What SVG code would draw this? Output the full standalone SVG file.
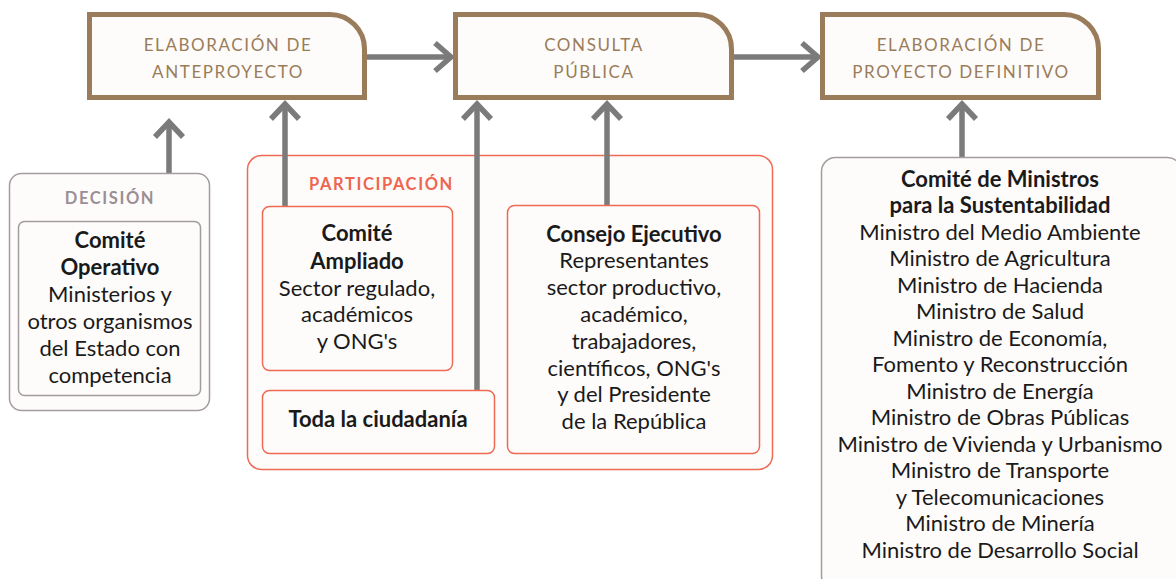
<svg xmlns="http://www.w3.org/2000/svg" width="1176" height="579" viewBox="0 0 1176 579">
<style>
.stage{fill:#fefcfa;stroke:#9a7c5a;stroke-width:5}
.stt{font-family:Lato,"Liberation Sans",sans-serif;font-size:17px;fill:#9a7c5a;letter-spacing:1.6px;text-anchor:middle}
.con{stroke:#7b7b7b;stroke-width:5.5;fill:none}
.head{stroke:#7b7b7b;stroke-width:5.5;fill:none;stroke-linejoin:miter}
.gbox{fill:#fefcfa;stroke:#a39c9e;stroke-width:1.5}
.rbox{fill:#fefcfa;stroke:#ee6a55;stroke-width:1.5}
.t{font-family:Lato,"Liberation Sans",sans-serif;font-size:22px;fill:#1a1a1a;text-anchor:middle}
.b{font-weight:bold}
.lab{font-family:Lato,"Liberation Sans",sans-serif;font-size:16.5px;font-weight:bold;letter-spacing:1.6px}
</style>
<rect width="1176" height="579" fill="#ffffff"/>

<g id="participacion">
<rect class="rbox" x="247.5" y="155.5" width="525" height="314" rx="14"/>
<text class="lab" x="309" y="190" fill="#ee6550">PARTICIPACIÓN</text>
</g>

<g id="connectors">
<line class="con" x1="367" y1="57" x2="450" y2="57"/>
<polyline class="head" points="435,43 451,57 435,71"/>
<line class="con" x1="734" y1="57" x2="817" y2="57"/>
<polyline class="head" points="802,43 818,57 802,71"/>
<line class="con" x1="169" y1="173" x2="169" y2="122"/>
<polyline class="head" points="155,137 169,122 183,137"/>
<line class="con" x1="285" y1="207" x2="285" y2="104"/>
<polyline class="head" points="271,119 285,104 299,119"/>
<line class="con" x1="477" y1="390" x2="477" y2="104"/>
<polyline class="head" points="463,119 477,104 491,119"/>
<line class="con" x1="607" y1="205" x2="607" y2="104"/>
<polyline class="head" points="593,119 607,104 621,119"/>
<line class="con" x1="962" y1="157" x2="962" y2="104"/>
<polyline class="head" points="948,119 962,104 976,119"/>
</g>

<g id="anteproyecto">
<path class="stage" d="M89.5,14.5 H330 A34.5,34.5 0 0 1 364.5,49 V97.5 H89.5 Z"/>
<text class="stt" x="228" y="51">ELABORACIÓN DE</text>
<text class="stt" x="228" y="78">ANTEPROYECTO</text>
</g>

<g id="consulta">
<path class="stage" d="M455.5,14.5 H697 A34.5,34.5 0 0 1 731.5,49 V97.5 H455.5 Z"/>
<text class="stt" x="594" y="51">CONSULTA</text>
<text class="stt" x="594" y="78">PÚBLICA</text>
</g>

<g id="definitivo">
<path class="stage" d="M822.5,14.5 H1064 A34.5,34.5 0 0 1 1098.5,49 V97.5 H822.5 Z"/>
<text class="stt" x="961" y="51">ELABORACIÓN DE</text>
<text class="stt" x="961" y="78">PROYECTO DEFINITIVO</text>
</g>

<g id="decision">
<rect class="gbox" x="9.5" y="173.5" width="200" height="237" rx="12"/>
<text class="lab" x="110" y="204" fill="#9a8f95" text-anchor="middle">DECISIÓN</text>
<rect class="gbox" x="18.5" y="221.5" width="182" height="174" rx="6"/>
<text class="t b" x="110" y="248">Comité</text>
<text class="t b" x="110" y="275">Operativo</text>
<text class="t" x="110" y="302">Ministerios y</text>
<text class="t" x="110" y="329">otros organismos</text>
<text class="t" x="110" y="356">del Estado con</text>
<text class="t" x="110" y="383">competencia</text>
</g>

<g id="comite-ampliado">
<rect class="rbox" x="262.5" y="206.5" width="190" height="164" rx="7"/>
<text class="t b" x="357" y="241">Comité</text>
<text class="t b" x="357" y="269">Ampliado</text>
<text class="t" x="357" y="296">Sector regulado,</text>
<text class="t" x="357" y="322">académicos</text>
<text class="t" x="357" y="349">y ONG's</text>
</g>

<g id="ciudadania">
<rect class="rbox" x="262.5" y="390.5" width="232" height="63" rx="7"/>
<text class="t b" x="378" y="427">Toda la ciudadanía</text>
</g>

<g id="consejo">
<rect class="rbox" x="507.5" y="205.5" width="252" height="248" rx="7"/>
<text class="t b" x="634" y="242">Consejo Ejecutivo</text>
<text class="t" x="634" y="268">Representantes</text>
<text class="t" x="634" y="295">sector productivo,</text>
<text class="t" x="634" y="322">académico,</text>
<text class="t" x="634" y="349">trabajadores,</text>
<text class="t" x="634" y="376">científicos, ONG's</text>
<text class="t" x="634" y="402">y del Presidente</text>
<text class="t" x="634" y="429">de la República</text>
</g>

<g id="ministros">
<rect class="gbox" x="821.5" y="157.5" width="360" height="432" rx="14"/>
<text class="t b" x="1000" y="187">Comité de Ministros</text>
<text class="t b" x="1000" y="213">para la Sustentabilidad</text>
<text class="t" x="1000" y="240">Ministro del Medio Ambiente</text>
<text class="t" x="1000" y="266">Ministro de Agricultura</text>
<text class="t" x="1000" y="293">Ministro de Hacienda</text>
<text class="t" x="1000" y="319">Ministro de Salud</text>
<text class="t" x="1000" y="346">Ministro de Economía,</text>
<text class="t" x="1000" y="372">Fomento y Reconstrucción</text>
<text class="t" x="1000" y="399">Ministro de Energía</text>
<text class="t" x="1000" y="425">Ministro de Obras Públicas</text>
<text class="t" x="1000" y="452">Ministro de Vivienda y Urbanismo</text>
<text class="t" x="1000" y="478">Ministro de Transporte</text>
<text class="t" x="1000" y="505">y Telecomunicaciones</text>
<text class="t" x="1000" y="531">Ministro de Minería</text>
<text class="t" x="1000" y="558">Ministro de Desarrollo Social</text>
</g>
</svg>
